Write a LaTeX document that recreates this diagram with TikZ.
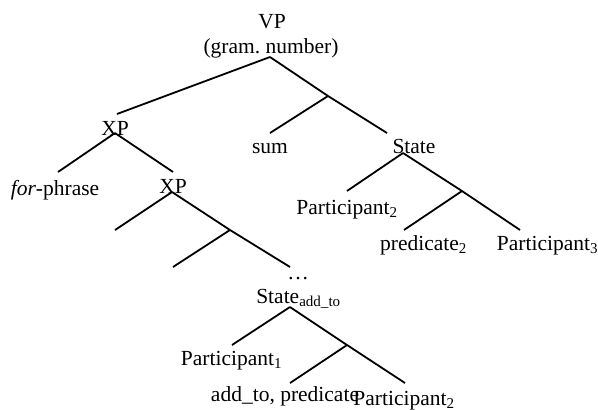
\documentclass[tikz,border=0pt]{standalone}
\usepackage{fontspec}
\setmainfont{Liberation Serif}
\usetikzlibrary{positioning}
\frenchspacing

\tikzset{
    lbl/.style={anchor=base, inner sep=0pt, font=\fontsize{21.5}{25}\selectfont},
    branch/.style={line width=1.8pt, black}
}

\begin{document}
\begin{tikzpicture}[x=1pt, y=-1pt]

\useasboundingbox (0,0) rectangle (598,410);

% Etiquetes
\node[lbl] (vp)    at (272,28)  {VP};
\node[lbl] (gram)  at (271,53)  {(gram. number)};
\node[lbl] (xpa)   at (115,135) {XP};
\node[lbl] (sum)   at (270,153) {sum};
\node[lbl] (state) at (414,153) {State};
\node[lbl] (forph) at (55,195)  {\textit{for}-phrase};
\node[lbl] (xpb)   at (173,193) {XP};
\node[lbl] (parttwo)   at (347,214) {Participant\textsubscript{2}};
\node[lbl] (predtwo)   at (423.5,250) {predicate\textsubscript{2}};
\node[lbl] (partthree) at (547.5,250) {Participant\textsubscript{3}};
\node[lbl] (dots)      at (298,279) {\dots};
\node[lbl] (stateadd)  at (298.5,303) {State\textsubscript{add\_to}};
\node[lbl] (partone)   at (231.5,365) {Participant\textsubscript{1}};
\node[lbl] (addpred)   at (285,401) {add\_to, predicate};
\node[lbl] (partlow)   at (404,405) {Participant\textsubscript{2}};

% Punts de les branques
\coordinate (vptop)  at (270,57);
\coordinate (vpj)    at (328,96);
\coordinate (xpaend) at (117,114);
\coordinate (sumend) at (270,133);
\coordinate (stend)  at (387,133);

\coordinate (xpatop) at (115,133);
\coordinate (forend) at (58,172);
\coordinate (xpbend) at (173,172);

\coordinate (xpbtop) at (172,192);
\coordinate (emptya) at (115,230);
\coordinate (xpbj)   at (230,230);
\coordinate (emptyb) at (173,267);
\coordinate (dotsend) at (290,267);

\coordinate (sttop)  at (403,153);
\coordinate (ptwoend) at (347,191);
\coordinate (stj)    at (462,191);
\coordinate (predend) at (404,230);
\coordinate (pthreeend) at (520,230);

\coordinate (satop)  at (290,307);
\coordinate (poneend) at (232,345);
\coordinate (saj)    at (347,345);
\coordinate (addend) at (290,383);
\coordinate (plowend) at (405,383);

% Branques
\draw[branch] (vptop) -- (xpaend);
\draw[branch] (vptop) -- (vpj) -- (stend);
\draw[branch] (vpj) -- (sumend);

\draw[branch] (xpatop) -- (forend);
\draw[branch] (xpatop) -- (xpbend);

\draw[branch] (xpbtop) -- (emptya);
\draw[branch] (xpbtop) -- (xpbj) -- (dotsend);
\draw[branch] (xpbj) -- (emptyb);

\draw[branch] (sttop) -- (ptwoend);
\draw[branch] (sttop) -- (stj) -- (pthreeend);
\draw[branch] (stj) -- (predend);

\draw[branch] (satop) -- (poneend);
\draw[branch] (satop) -- (saj) -- (plowend);
\draw[branch] (saj) -- (addend);

\end{tikzpicture}
\end{document}
